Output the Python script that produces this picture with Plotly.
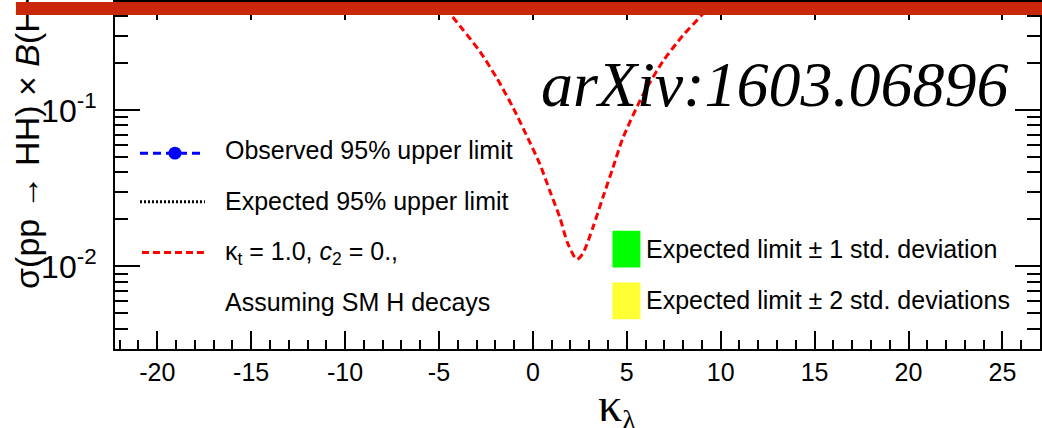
import plotly.graph_objects as go

# ---------------- data ----------------
kappa_lambda = [-5.0, -4.41, -3.72, -2.82, -1.91, -1.06, -0.27, 0.37, 0.90, 1.44,
                1.86, 2.34, 2.66, 3.19, 3.72, 4.26, 4.79, 5.85, 6.91, 7.98, 8.99, 9.6]
sigma_br = [0.51, 0.415, 0.328, 0.238, 0.160, 0.1044, 0.0664, 0.0453, 0.0305, 0.0205,
            0.0140, 0.0111, 0.0121, 0.0177, 0.0275, 0.0428, 0.0664, 0.125, 0.205, 0.301,
            0.408, 0.505]

x_tick_vals = [-20, -15, -10, -5, 0, 5, 10, 15, 20, 25]
x_tick_text = ["-20", "-15", "-10", "-5", "0", "5", "10", "15", "20", "25"]
y_tick_vals = [0.01, 0.1]
y_tick_text = ["10<sup>-2</sup>", "10<sup>-1</sup>"]
y_decades = [0.001, 0.01, 0.1]
y_minor_mult = [2, 3, 4, 5, 6, 7, 8, 9]

legend_left_labels = ["Observed 95% upper limit",
                      "Expected 95% upper limit",
                      "κ<sub>t</sub> = 1.0, <i>c</i><sub>2</sub> = 0.,",
                      "Assuming SM H decays"]
legend_right_labels = ["Expected limit ± 1 std. deviation",
                       "Expected limit ± 2 std. deviations"]
stamp_text = "arXiv:1603.06896"
x_title = "<span style='font-size:48px'>κ</span><sub>λ</sub>"
y_title = "σ(pp → HH) × <i>B</i>(HH → bbbb) [pb]"

# ---------------- layout geometry ----------------
W, H = 1042, 428
ML, MR, MT, MB = 115, 1, 0, 79
PW, PH = W - ML - MR, H - MT - MB


def px(x):
    return (x - ML) / PW


def py(y):
    return (H - MB - y) / PH


sans = "Liberation Sans, Arial, Helvetica, sans-serif"
serif = "Liberation Serif, Times New Roman, serif"

y_minor_vals = [d * m for d in y_decades for m in y_minor_mult]

fig = go.Figure()
fig.add_trace(go.Scatter(
    x=kappa_lambda, y=sigma_br, mode="lines",
    line=dict(color="#FF0000", width=3, dash="7px,4px", shape="spline", smoothing=0.7),
    showlegend=False, hoverinfo="skip"))

axis_common = dict(showline=True, linewidth=2, linecolor="black", mirror="ticks",
                   ticks="inside", tickcolor="black", tickwidth=1.5,
                   showgrid=False, zeroline=False)

fig.update_layout(
    width=W, height=H,
    margin=dict(l=ML, r=MR, t=MT, b=MB, pad=0),
    paper_bgcolor="white", plot_bgcolor="white",
    showlegend=False,
    xaxis=dict(range=[-22.25, 27.0], tickmode="array", tickvals=x_tick_vals,
               ticktext=x_tick_text, ticklen=18,
               tickfont=dict(family=sans, size=25, color="black"),
               minor=dict(dtick=1, tick0=0, ticks="inside", ticklen=9, tickwidth=1.5,
                          tickcolor="black", showgrid=False),
               **axis_common),
    yaxis=dict(type="log", range=[-2.529, -0.306], tickmode="array",
               tickvals=y_tick_vals, ticktext=y_tick_text, ticklen=25,
               ticklabelstandoff=10,
               tickfont=dict(family=sans, size=32, color="black"),
               minor=dict(tickmode="array", tickvals=y_minor_vals, ticks="inside",
                          ticklen=13, tickwidth=1.5, tickcolor="black", showgrid=False),
               **axis_common),
)

shapes = []
# legend samples
shapes.append(dict(type="line", xref="paper", yref="paper", x0=px(140), x1=px(205),
                   y0=py(152), y1=py(152), line=dict(color="#0000FF", width=3, dash="8px,5px")))
shapes.append(dict(type="circle", xref="paper", yref="paper", x0=px(168.5), x1=px(181.5),
                   y0=py(158.5), y1=py(145.5), fillcolor="#0000FF", line=dict(width=0)))
shapes.append(dict(type="line", xref="paper", yref="paper", x0=px(140), x1=px(205),
                   y0=py(201), y1=py(201), line=dict(color="black", width=3, dash="2px,2px")))
shapes.append(dict(type="line", xref="paper", yref="paper", x0=px(142), x1=px(204),
                   y0=py(252), y1=py(252), line=dict(color="#FF0000", width=3, dash="7px,4px")))
shapes.append(dict(type="rect", xref="paper", yref="paper", x0=px(613), x1=px(641),
                   y0=py(267), y1=py(230), fillcolor="#00FF00", line=dict(width=0)))
shapes.append(dict(type="rect", xref="paper", yref="paper", x0=px(613), x1=px(641),
                   y0=py(319), y1=py(282), fillcolor="#FFFF33", line=dict(width=0)))
fig.update_layout(shapes=shapes)

ann = []
for lab, yc in zip(legend_left_labels, [149, 200, 252, 302]):
    ann.append(dict(text=lab, xref="paper", yref="paper", x=px(223), y=py(yc),
                    xanchor="left", yanchor="middle", showarrow=False,
                    font=dict(family=sans, size=25, color="black")))
for lab, yc in zip(legend_right_labels, [248, 300]):
    ann.append(dict(text=lab, xref="paper", yref="paper", x=px(645), y=py(yc),
                    xanchor="left", yanchor="middle", showarrow=False,
                    font=dict(family=sans, size=25, color="black")))
ann.append(dict(text="<i>" + stamp_text + "</i>", xref="paper", yref="paper",
                x=px(776), y=py(83), xanchor="center", yanchor="middle", showarrow=False,
                font=dict(family=serif, size=64, color="black")))
ann.append(dict(text=x_title, xref="paper", yref="paper", x=px(618), y=py(407),
                xanchor="center", yanchor="middle", showarrow=False,
                font=dict(family=serif, size=40, color="black")))
ann.append(dict(text=y_title, xref="paper", yref="paper", x=px(27), y=py(291),
                xanchor="center", yanchor="bottom", textangle=-90, showarrow=False,
                font=dict(family=sans, size=34, color="black")))
# red frame bar overlaid at the top of the picture
ann.append(dict(text=" ", xref="paper", yref="paper", x=px(16), y=py(0),
                xanchor="left", yanchor="top", width=1040, height=13, showarrow=False,
                bgcolor="#C9260A", borderpad=0, borderwidth=0))
fig.update_layout(annotations=ann)

fig.write_html("out.html", config={"displayModeBar": False},
               post_script="document.body.style.margin='0px';")
